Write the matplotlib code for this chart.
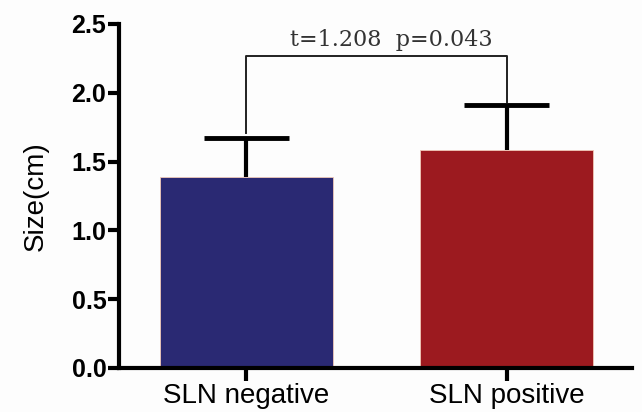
import matplotlib
matplotlib.use("Agg")
import matplotlib.pyplot as plt

categories = ["SLN negative", "SLN positive"]
means = [1.39, 1.58]
sd_upper = [0.28, 0.33]
colors = ["#2a2973", "#9c1a1f"]
bracket_y = 2.27
bracket_left_bottom = 1.71
bracket_right_bottom = 1.93
stat_text = "t=1.208  p=0.043"

fig = plt.figure(figsize=(6.42, 4.12), dpi=100)
fig.patch.set_facecolor("#fdfdfd")
ax = fig.add_axes([0.185, 0.107, 0.799, 0.835])
ax.set_facecolor("#fdfdfd")

x = list(range(len(categories)))
ax.bar(x, means, width=0.665, color=colors, edgecolor="#f0c8b8", linewidth=0.6, zorder=2)

# upper error bars only (line from bar top to cap)
tops = [m + e for m, e in zip(means, sd_upper)]
ax.vlines(x, means, tops, color="black", linewidth=3, zorder=1)
cap_half = 0.163
ax.hlines(tops, [xi - cap_half for xi in x], [xi + cap_half for xi in x],
          color="black", linewidth=3.5, zorder=1)

# significance bracket
ax.plot([0, 0, 1, 1], [bracket_left_bottom, bracket_y, bracket_y, bracket_right_bottom],
        color="#222222", linewidth=1.4, zorder=3)
ax.text(0.555, bracket_y + 0.035, stat_text, ha="center", va="bottom",
        fontsize=16, family="DejaVu Serif", color="#333333")

ax.set_xlim(-0.49, 1.48)
ax.set_ylim(0, 2.5)
ax.set_yticks([0.0, 0.5, 1.0, 1.5, 2.0, 2.5])
ax.set_yticklabels(["0.0", "0.5", "1.0", "1.5", "2.0", "2.5"],
                   fontweight="bold", fontsize=18, family="Liberation Sans")
ax.set_xticks(x)
ax.set_xticklabels(categories, fontsize=20, family="Liberation Sans")
ax.set_ylabel("Size(cm)", fontsize=20, family="Liberation Sans", labelpad=16)

for side in ["top", "right"]:
    ax.spines[side].set_visible(False)
for side in ["left", "bottom"]:
    ax.spines[side].set_linewidth(3)
ax.tick_params(axis="y", width=3, length=8, direction="out", pad=1)
ax.tick_params(axis="x", width=3, length=9, direction="out", pad=2)

fig.savefig("out.png", dpi=100, facecolor=fig.get_facecolor())
